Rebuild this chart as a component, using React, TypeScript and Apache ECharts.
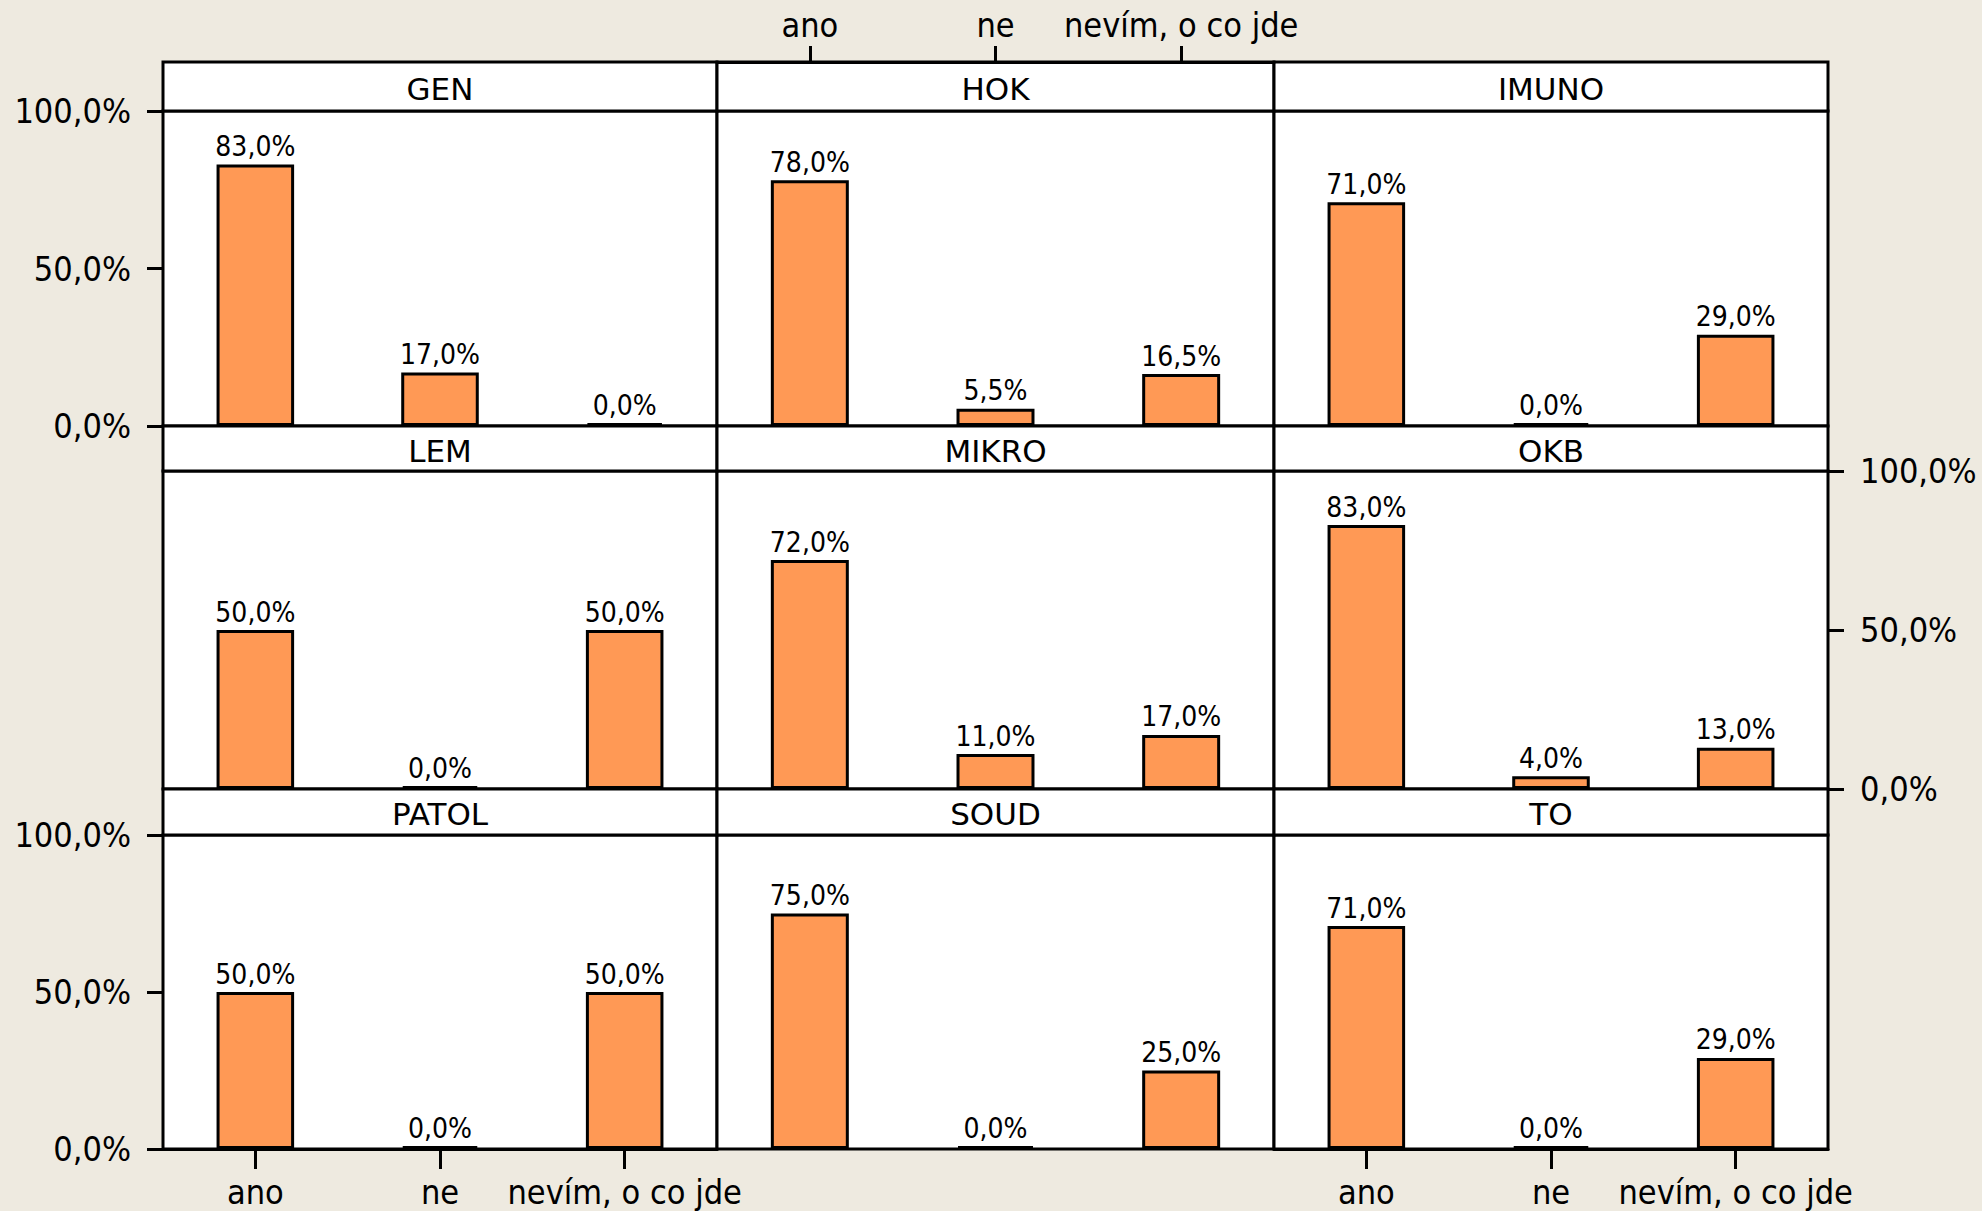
import React, { useEffect, useRef } from "react";
import * as echarts from "echarts";

const categories = ["ano", "ne", "nevím, o co jde"];
const panelNames = ["GEN", "HOK", "IMUNO", "LEM", "MIKRO", "OKB", "PATOL", "SOUD", "TO"];
const genValues = [83.0, 17.0, 0.0];
const hokValues = [78.0, 5.5, 16.5];
const imunoValues = [71.0, 0.0, 29.0];
const lemValues = [50.0, 0.0, 50.0];
const mikroValues = [72.0, 11.0, 17.0];
const okbValues = [83.0, 4.0, 13.0];
const patolValues = [50.0, 0.0, 50.0];
const soudValues = [75.0, 0.0, 25.0];
const toValues = [71.0, 0.0, 29.0];
const panelValues = [genValues, hokValues, imunoValues, lemValues, mikroValues, okbValues, patolValues, soudValues, toValues];
const yMin = 0;
const yMax = 100;
const yInterval = 50;

const FONT = "'DejaVu Sans Condensed', 'DejaVu Sans', sans-serif";
const STRIP_FONT = "'DejaVu Sans', sans-serif";
const BG = "#EEEAE0";
const BAR = "#FF9955";

const colLeft = [163, 717, 1274];
const colRight = [717, 1274, 1828];
const stripTop = [62, 426, 789];
const plotTop = [111, 471, 835];
const plotBottom = [426, 789, 1149];

const pct = (v: number) => v.toFixed(1).replace(".", ",") + "%";

export default function App() {
  const ref = useRef<HTMLDivElement>(null);
  useEffect(() => {
    if (!ref.current) return;
    const chart = echarts.init(ref.current, undefined, { renderer: "svg" });
    const grids: any[] = [];
    const xAxes: any[] = [];
    const yAxes: any[] = [];
    const series: any[] = [];
    const graphics: any[] = [];
    for (let i = 0; i < 9; i++) {
      const r = Math.floor(i / 3);
      const c = i % 3;
      grids.push({
        left: colLeft[c],
        top: plotTop[r],
        width: colRight[c] - colLeft[c],
        height: plotBottom[r] - plotTop[r],
        show: true,
        backgroundColor: "#ffffff",
        borderColor: "#000000",
        borderWidth: 3,
        containLabel: false,
      });
      const showX = r === 2 && (c === 0 || c === 2);
      xAxes.push({
        type: "category",
        gridIndex: i,
        data: categories,
        position: "bottom",
        axisLine: { show: showX, onZero: false, lineStyle: { color: "#000", width: 3 } },
        axisTick: { show: showX, alignWithLabel: true, length: 20, lineStyle: { color: "#000", width: 3 } },
        axisLabel: {
          show: showX,
          interval: 0,
          color: "#000",
          fontSize: 34,
          fontFamily: FONT,
          margin: 26,
        },
        splitLine: { show: false },
        z: 20,
      });
      const showLeft = (r === 0 || r === 2) && c === 0;
      const showRight = r === 1 && c === 2;
      const showY = showLeft || showRight;
      yAxes.push({
        type: "value",
        gridIndex: i,
        min: yMin,
        max: yMax,
        interval: yInterval,
        position: showRight ? "right" : "left",
        axisLine: { show: false, onZero: false },
        axisTick: { show: showY, length: 16, lineStyle: { color: "#000", width: 3 } },
        axisLabel: {
          show: showY,
          color: "#000",
          fontSize: 34,
          fontFamily: FONT,
          margin: 32,
          formatter: (v: number) => pct(v),
        },
        splitLine: { show: false },
        z: 20,
      });
      series.push({
        type: "bar",
        xAxisIndex: i,
        yAxisIndex: i,
        data: panelValues[i],
        barWidth: "42%",
        barMinHeight: 3,
        itemStyle: { color: BAR, borderColor: "#000", borderWidth: 3 },
        label: {
          show: true,
          position: "top",
          distance: 4,
          color: "#000",
          fontSize: 28,
          fontFamily: FONT,
          formatter: (p: any) => pct(p.value),
        },
      });
      graphics.push({
        type: "rect",
        shape: { x: colLeft[c], y: stripTop[r], width: colRight[c] - colLeft[c], height: plotTop[r] - stripTop[r] },
        style: { fill: "#ffffff", stroke: "#000", lineWidth: 3 },
        z: 10,
      });
      graphics.push({
        type: "text",
        x: (colLeft[c] + colRight[c]) / 2,
        y: (stripTop[r] + plotTop[r]) / 2 + 2,
        style: {
          text: panelNames[i],
          fill: "#000",
          fontSize: 31,
          fontFamily: STRIP_FONT,
          align: "center",
          verticalAlign: "middle",
        },
        z: 11,
      });
    }
    // top category axis above the middle column (on the outer frame)
    grids.push({
      left: colLeft[1],
      top: stripTop[0],
      width: colRight[1] - colLeft[1],
      height: plotBottom[0] - stripTop[0],
      show: false,
      containLabel: false,
    });
    xAxes.push({
      type: "category",
      gridIndex: 9,
      data: categories,
      position: "top",
      axisLine: { show: true, onZero: false, lineStyle: { color: "#000", width: 3 } },
      axisTick: { show: true, alignWithLabel: true, length: 16, lineStyle: { color: "#000", width: 3 } },
      axisLabel: { show: true, interval: 0, color: "#000", fontSize: 34, fontFamily: FONT, margin: 20 },
      splitLine: { show: false },
      z: 20,
    });
    yAxes.push({
      type: "value",
      gridIndex: 9,
      min: yMin,
      max: yMax,
      interval: yInterval,
      show: false,
    });
    chart.setOption({
      animation: false,
      backgroundColor: BG,
      grid: grids,
      xAxis: xAxes,
      yAxis: yAxes,
      series,
      graphic: graphics,
    });
    return () => chart.dispose();
  }, []);
  return (
    <div
      ref={ref}
      style={{ position: "fixed", left: 0, top: 0, width: 1982, height: 1211 }}
    />
  );
}
